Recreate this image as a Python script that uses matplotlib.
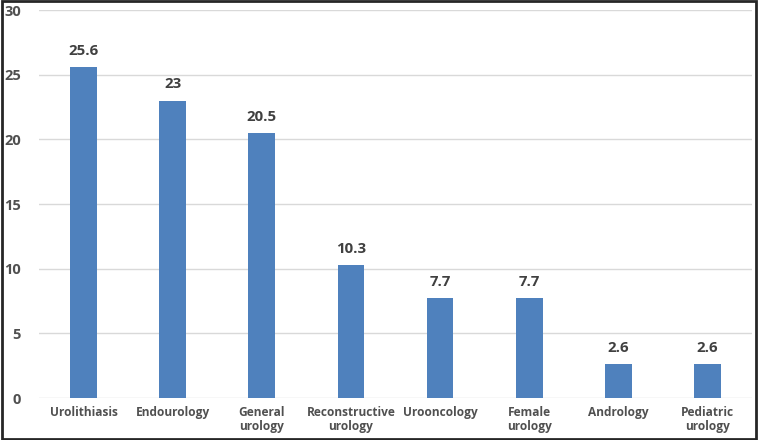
import matplotlib.pyplot as plt
import numpy as np
from matplotlib.patches import Rectangle

categories = ['Urolithiasis', 'Endourology', 'General\nurology', 'Reconstructive\nurology',
              'Urooncology', 'Female\nurology', 'Andrology', 'Pediatric\nurology']
values = [25.6, 23, 20.5, 10.3, 7.7, 7.7, 2.6, 2.6]
value_labels = ['25.6', '23', '20.5', '10.3', '7.7', '7.7', '2.6', '2.6']
yticks = [0, 5, 10, 15, 20, 25, 30]

plt.rcParams['font.family'] = ['Open Sans', 'DejaVu Sans']

fig = plt.figure(figsize=(7.58, 4.40), dpi=100)
ax = fig.add_axes([39 / 758, 42 / 440, 713 / 758, 388 / 440])

x = np.arange(len(categories))
ax.bar(x, values, width=0.3, color='#4f81bd', zorder=3)

# value labels above bars
for xi, v, lab in zip(x, values, value_labels):
    ax.text(xi, v + 0.7, lab, ha='center', va='bottom', fontsize=10.8,
            fontweight='bold', color='#404040')

ax.set_xlim(-0.5, len(categories) - 0.5)
ax.set_ylim(0, 30)
ax.set_yticks(yticks)
ax.set_xticks(x)
ax.set_xticklabels(categories, fontsize=8.6, fontweight='bold', color='#505050',
                   linespacing=1.1)
for lab in ax.get_yticklabels():
    lab.set_fontsize(10.5)
    lab.set_fontweight('bold')
    lab.set_color('#505050')

ax.grid(axis='y', color='#d9d9d9', linewidth=1, zorder=0)
ax.tick_params(length=0)
ax.tick_params(axis='x', pad=6)
ax.tick_params(axis='y', pad=13)
for s in ax.spines.values():
    s.set_visible(False)

# dark frame around the whole picture
fig.patches.append(Rectangle((0.002, 0.003), 0.996, 0.994, transform=fig.transFigure,
                             fill=False, edgecolor='#262626', linewidth=2))

fig.savefig('out.png', dpi=100)
